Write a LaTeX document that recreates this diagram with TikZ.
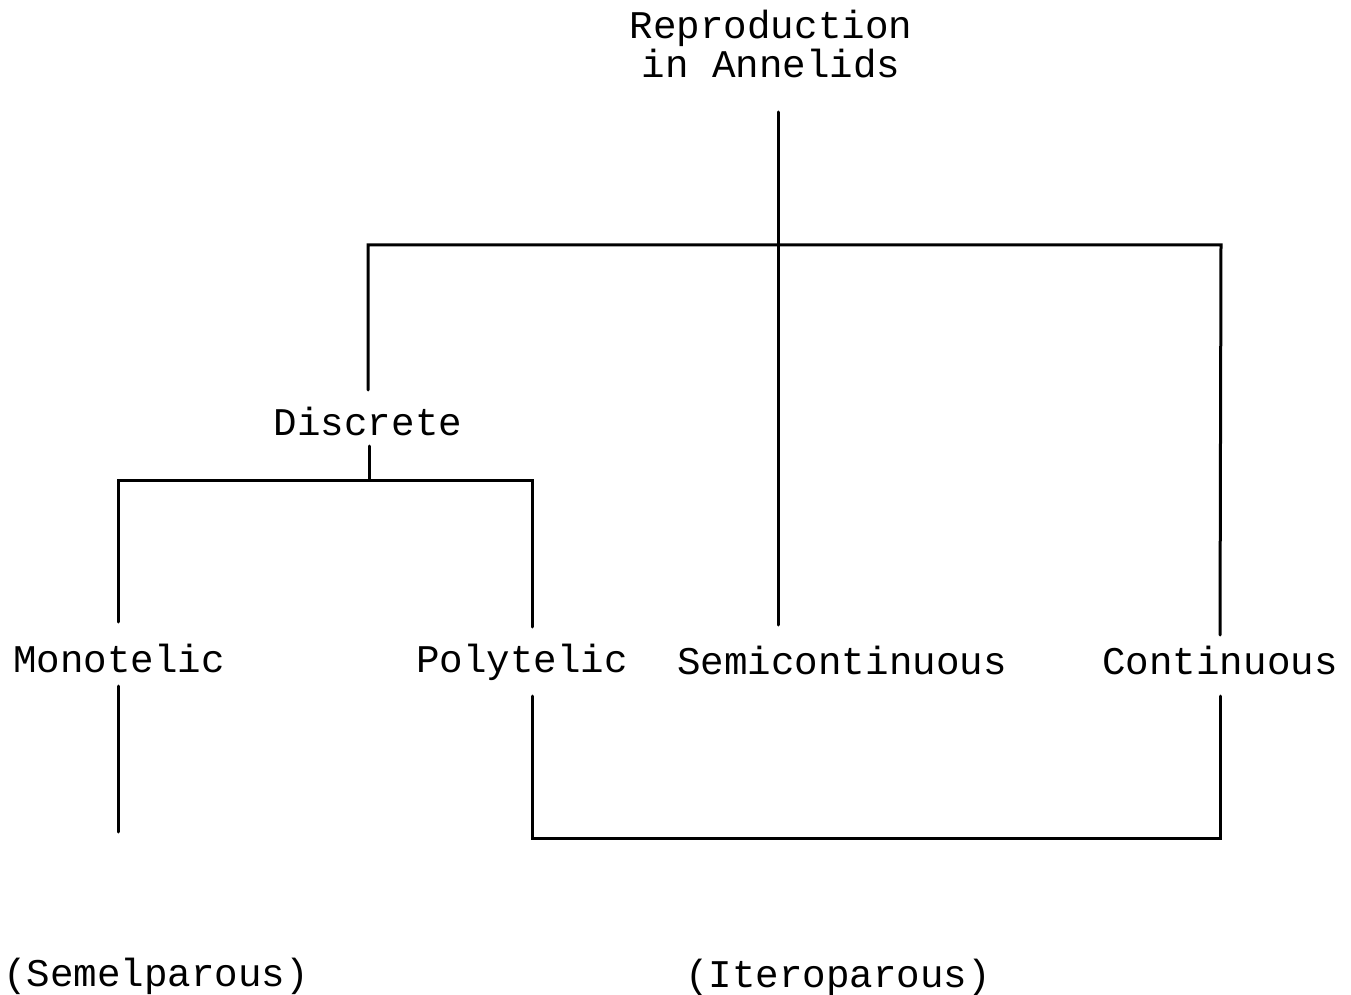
\documentclass[tikz,border=0pt]{standalone}
\usepackage{fontspec}
\setmainfont{Liberation Mono}
\begin{document}
\begin{tikzpicture}[x=0.5pt,y=-0.5pt,
  lbl/.style={inner sep=0pt,anchor=base,font=\fontsize{19.6}{23}\selectfont},
  ln/.style={line width=1.5pt,line cap=round}]
\useasboundingbox (0,0) rectangle (1351,995);
\node[lbl] (root) at (771,39) {Reproduction};
\node[lbl] (root2) at (771,78) {in Annelids};
\node[lbl] (disc) at (368,435) {Discrete};
\node[lbl] (mono) at (119,672) {Monotelic};
\node[lbl] (poly) at (522,672) {Polytelic};
\node[lbl] (semi) at (842,674) {Semicontinuous};
\node[lbl] (cont) at (1220,674) {Continuous};
\node[lbl] (semel) at (156,986) {(Semelparous)};
\node[lbl] (itero) at (838,987) {(Iteroparous)};
% coordinates
\coordinate (rTop) at (778,112);
\coordinate (rMid) at (778,245);
\coordinate (hL) at (367,245);
\coordinate (hR) at (1221,245);
\coordinate (dTop) at (368,390);
\coordinate (sEnd) at (778,625);
\coordinate (cTop) at (1220,635);
\coordinate (dBot) at (369,446);
\coordinate (dMid) at (369,480);
\coordinate (mH) at (118,480);
\coordinate (pH) at (532,480);
\coordinate (mTop) at (118,622);
\coordinate (pTop) at (532,627);
\coordinate (mB1) at (118,686);
\coordinate (mB2) at (118,832);
\coordinate (pB1) at (532,696);
\coordinate (pB2) at (532,838);
\coordinate (cB1) at (1220,696);
\coordinate (cB2) at (1220,838);
\draw[ln] (rTop) -- (rMid) -- (sEnd);
\draw[ln] (dTop) |- (hR) -- (cTop);
\draw[ln] (dBot) -- (dMid);
\draw[ln] (mTop) |- (pH) -- (pTop);
\draw[ln] (mB1) -- (mB2);
\draw[ln] (pB1) -- (pB2) -- (cB2) -- (cB1);
\end{tikzpicture}
\end{document}
